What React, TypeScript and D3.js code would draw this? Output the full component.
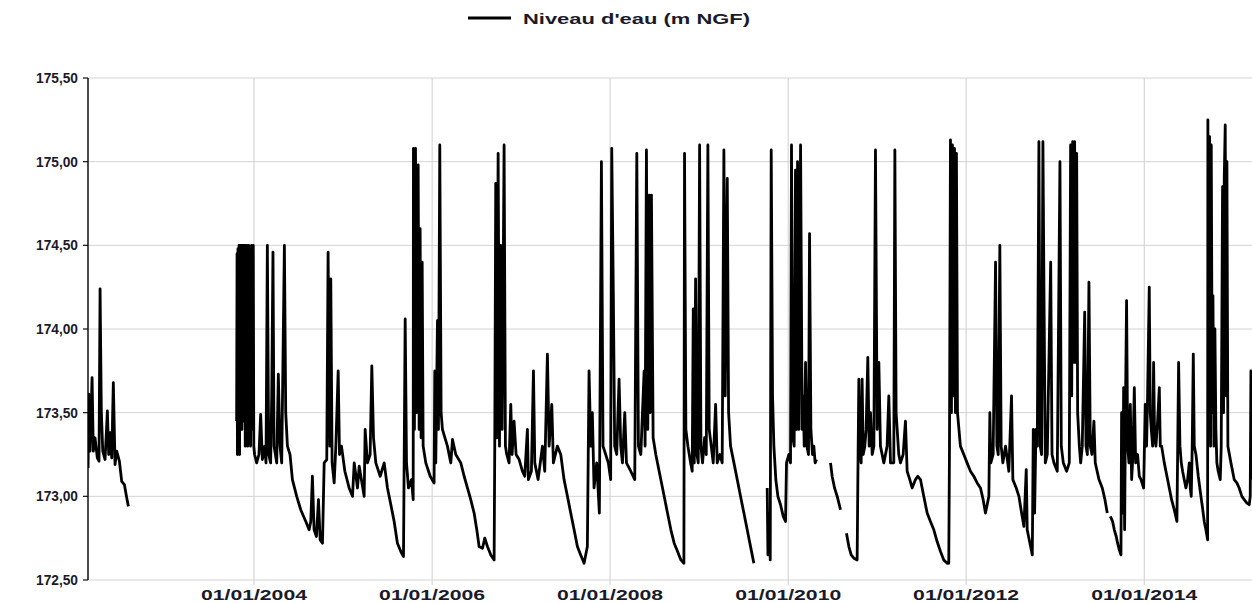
import React from "react";
import * as d3 from "d3";

// Water level series (decimal year, m NGF); separate recording periods
const seg2002: [number, number][] = [
  [2002.135, 173.17], [2002.143, 173.61], [2002.157, 173.27], [2002.18, 173.71], [2002.194, 173.27],
  [2002.213, 173.35], [2002.239, 173.23], [2002.258, 173.21], [2002.27, 174.24], [2002.284, 173.51],
  [2002.3, 173.27], [2002.326, 173.22], [2002.352, 173.51], [2002.367, 173.25], [2002.382, 173.38],
  [2002.401, 173.23], [2002.419, 173.68], [2002.438, 173.19], [2002.457, 173.27], [2002.487, 173.21],
  [2002.513, 173.09], [2002.543, 173.07], [2002.57, 172.99], [2002.588, 172.94],
];

const seg2003to2009: [number, number][] = [
  [2003.805, 173.45], [2003.81, 174.45], [2003.814, 173.25], [2003.82, 174.48], [2003.825, 173.3],
  [2003.832, 174.5], [2003.838, 173.25], [2003.845, 174.5], [2003.851, 173.5], [2003.858, 174.5],
  [2003.864, 173.4], [2003.87, 174.5], [2003.876, 173.5], [2003.883, 174.5], [2003.889, 173.45],
  [2003.896, 174.5], [2003.902, 173.3], [2003.91, 174.5], [2003.916, 173.5], [2003.924, 174.5],
  [2003.93, 173.3], [2003.94, 174.5], [2003.946, 173.35], [2003.955, 173.9], [2003.962, 173.3],
  [2003.972, 174.5], [2003.978, 173.4], [2003.992, 174.5], [2003.998, 173.3],
  [2004.007, 173.25], [2004.03, 173.2], [2004.056, 173.25], [2004.075, 173.49], [2004.094, 173.22],
  [2004.12, 173.3], [2004.135, 173.2], [2004.15, 174.5], [2004.165, 173.25], [2004.187, 173.2],
  [2004.199, 173.6], [2004.213, 174.46], [2004.225, 173.3], [2004.255, 173.2], [2004.273, 173.73],
  [2004.292, 173.3], [2004.311, 173.2], [2004.341, 174.5], [2004.356, 173.5], [2004.375, 173.3],
  [2004.404, 173.25], [2004.431, 173.1], [2004.479, 173.0], [2004.524, 172.92], [2004.581, 172.85],
  [2004.618, 172.8], [2004.637, 172.85], [2004.655, 173.12], [2004.674, 172.8], [2004.7, 172.76],
  [2004.723, 172.98], [2004.742, 172.74], [2004.768, 172.72], [2004.787, 173.2], [2004.816, 173.22],
  [2004.831, 174.46], [2004.85, 173.3], [2004.861, 174.3], [2004.876, 173.2], [2004.899, 173.08],
  [2004.918, 173.3], [2004.944, 173.75], [2004.959, 173.25], [2004.981, 173.3], [2005.019, 173.15],
  [2005.067, 173.05], [2005.105, 173.0], [2005.124, 173.2], [2005.161, 173.05], [2005.18, 173.18],
  [2005.236, 173.0], [2005.247, 173.4], [2005.273, 173.2], [2005.303, 173.25], [2005.322, 173.78],
  [2005.341, 173.35], [2005.367, 173.2], [2005.416, 173.12], [2005.461, 173.2], [2005.498, 173.05],
  [2005.536, 172.95], [2005.573, 172.85], [2005.61, 172.72], [2005.648, 172.67], [2005.678, 172.64],
  [2005.697, 174.06], [2005.712, 173.2], [2005.734, 173.05], [2005.768, 173.1], [2005.787, 172.98],
  [2005.79, 175.08], [2005.801, 173.4], [2005.813, 175.08], [2005.824, 173.5], [2005.843, 174.98],
  [2005.854, 173.4], [2005.865, 174.6], [2005.876, 173.35], [2005.888, 174.4], [2005.899, 173.3],
  [2005.929, 173.2], [2005.978, 173.12], [2006.022, 173.08], [2006.03, 173.75], [2006.041, 173.2],
  [2006.06, 174.05], [2006.071, 173.4], [2006.086, 175.1], [2006.101, 173.5], [2006.116, 173.4],
  [2006.172, 173.3], [2006.21, 173.2], [2006.229, 173.34], [2006.266, 173.25], [2006.322, 173.2],
  [2006.36, 173.12], [2006.397, 173.05], [2006.434, 172.98], [2006.472, 172.9], [2006.502, 172.8],
  [2006.528, 172.7], [2006.566, 172.69], [2006.592, 172.75], [2006.622, 172.7], [2006.66, 172.65],
  [2006.697, 172.62], [2006.704, 173.3], [2006.715, 174.87], [2006.727, 173.35], [2006.742, 175.05],
  [2006.757, 173.3], [2006.772, 174.5], [2006.787, 173.4], [2006.809, 175.1], [2006.824, 173.3],
  [2006.839, 173.25], [2006.865, 173.2], [2006.884, 173.55], [2006.899, 173.25], [2006.921, 173.45],
  [2006.944, 173.25], [2006.978, 173.22], [2007.015, 173.15], [2007.041, 173.12], [2007.071, 173.4],
  [2007.082, 173.1], [2007.116, 173.15], [2007.139, 173.75], [2007.154, 173.2], [2007.191, 173.1],
  [2007.24, 173.3], [2007.266, 173.15], [2007.296, 173.85], [2007.315, 173.3], [2007.345, 173.55],
  [2007.363, 173.2], [2007.408, 173.3], [2007.446, 173.25], [2007.483, 173.1], [2007.521, 173.0],
  [2007.558, 172.9], [2007.596, 172.8], [2007.633, 172.7], [2007.67, 172.65], [2007.708, 172.6],
  [2007.745, 172.7], [2007.764, 173.75], [2007.783, 173.3], [2007.801, 173.5], [2007.82, 173.05],
  [2007.85, 173.2], [2007.88, 172.9], [2007.903, 175.0], [2007.921, 173.3], [2007.951, 173.25],
  [2007.981, 173.2], [2008.007, 173.1], [2008.019, 175.08], [2008.037, 174.2], [2008.052, 173.3],
  [2008.075, 173.25], [2008.101, 173.7], [2008.12, 173.3], [2008.139, 173.2], [2008.165, 173.5],
  [2008.184, 173.2], [2008.232, 173.15], [2008.277, 173.1], [2008.3, 175.05], [2008.318, 173.3],
  [2008.345, 173.25], [2008.382, 173.75], [2008.393, 173.3], [2008.408, 175.07], [2008.423, 173.4],
  [2008.438, 174.8], [2008.449, 173.5], [2008.464, 174.8], [2008.483, 173.35], [2008.513, 173.25],
  [2008.569, 173.1], [2008.607, 173.0], [2008.644, 172.9], [2008.682, 172.8], [2008.719, 172.72],
  [2008.757, 172.67], [2008.794, 172.62], [2008.828, 172.6], [2008.835, 175.05], [2008.85, 173.4],
  [2008.873, 173.3], [2008.903, 173.2], [2008.921, 173.15], [2008.933, 174.12], [2008.944, 173.2],
  [2008.959, 174.3], [2008.974, 173.25], [2008.989, 173.2], [2009.004, 175.1], [2009.019, 173.3],
  [2009.037, 173.2], [2009.06, 173.35], [2009.079, 173.25], [2009.097, 175.1], [2009.112, 173.4],
  [2009.135, 173.3], [2009.157, 173.2], [2009.184, 173.55], [2009.202, 173.2], [2009.232, 173.25],
  [2009.258, 173.2], [2009.277, 175.07], [2009.292, 173.6], [2009.315, 174.9], [2009.33, 173.5],
  [2009.352, 173.3], [2009.39, 173.2], [2009.427, 173.1], [2009.464, 173.0], [2009.502, 172.9],
  [2009.532, 172.82], [2009.558, 172.75], [2009.584, 172.68], [2009.614, 172.6],
];

const seg2009to2010: [number, number][] = [
  [2009.764, 173.05], [2009.772, 172.65], [2009.787, 172.9], [2009.798, 172.62], [2009.809, 175.07],
  [2009.824, 173.6], [2009.839, 173.3], [2009.861, 173.1], [2009.884, 173.0], [2009.914, 172.95],
  [2009.944, 172.88], [2009.97, 172.85], [2009.981, 173.2], [2010.007, 173.25], [2010.026, 173.2],
  [2010.037, 175.1], [2010.052, 173.35], [2010.067, 173.3], [2010.082, 174.95], [2010.094, 173.4],
  [2010.105, 175.0], [2010.12, 173.4], [2010.139, 175.1], [2010.157, 173.4], [2010.169, 173.6],
  [2010.18, 173.3], [2010.195, 173.8], [2010.21, 173.3], [2010.228, 173.25], [2010.24, 174.57],
  [2010.255, 173.4], [2010.273, 173.25], [2010.288, 173.3], [2010.303, 173.2], [2010.318, 173.22],
];

const seg2010mid: [number, number][] = [
  [2010.476, 173.2], [2010.494, 173.12], [2010.521, 173.05], [2010.551, 173.0], [2010.588, 172.92],
];

const seg2010to2013: [number, number][] = [
  [2010.655, 172.78], [2010.682, 172.7], [2010.708, 172.65], [2010.738, 172.63], [2010.775, 172.62],
  [2010.783, 173.1], [2010.794, 173.7], [2010.805, 173.3], [2010.82, 173.2], [2010.831, 173.7],
  [2010.843, 173.25], [2010.861, 173.3], [2010.876, 173.4], [2010.895, 173.83], [2010.91, 173.3],
  [2010.925, 173.5], [2010.944, 173.25], [2010.963, 173.3], [2010.981, 175.07], [2011.0, 173.4],
  [2011.019, 173.8], [2011.037, 173.3], [2011.075, 173.2], [2011.112, 173.3], [2011.131, 173.6],
  [2011.15, 173.2], [2011.187, 173.2], [2011.199, 175.07], [2011.213, 173.5], [2011.225, 173.4],
  [2011.243, 173.25], [2011.262, 173.2], [2011.292, 173.25], [2011.318, 173.45], [2011.337, 173.15],
  [2011.367, 173.1], [2011.393, 173.05], [2011.431, 173.1], [2011.457, 173.12], [2011.487, 173.1],
  [2011.524, 173.0], [2011.562, 172.9], [2011.599, 172.85], [2011.637, 172.8], [2011.674, 172.73],
  [2011.712, 172.67], [2011.749, 172.62], [2011.787, 172.6], [2011.805, 172.6], [2011.813, 173.3],
  [2011.824, 175.13], [2011.835, 173.5], [2011.846, 175.1], [2011.858, 173.6], [2011.869, 175.08],
  [2011.88, 173.5], [2011.891, 175.05], [2011.903, 173.5], [2011.936, 173.3], [2011.974, 173.25],
  [2012.011, 173.2], [2012.049, 173.15], [2012.086, 173.12], [2012.124, 173.08], [2012.161, 173.05],
  [2012.191, 172.98], [2012.217, 172.9], [2012.236, 172.95], [2012.255, 173.0], [2012.266, 173.5],
  [2012.277, 173.2], [2012.303, 173.25], [2012.33, 174.4], [2012.345, 173.3], [2012.36, 173.25],
  [2012.378, 174.5], [2012.393, 173.3], [2012.412, 173.2], [2012.442, 173.3], [2012.479, 173.15],
  [2012.509, 173.6], [2012.524, 173.1], [2012.562, 173.05], [2012.592, 173.0], [2012.622, 172.9],
  [2012.648, 172.82], [2012.674, 173.16], [2012.685, 172.8], [2012.704, 172.75], [2012.723, 172.7],
  [2012.742, 172.65], [2012.753, 173.4], [2012.768, 172.9], [2012.783, 173.4], [2012.798, 173.3],
  [2012.816, 175.12], [2012.831, 173.3], [2012.846, 173.25], [2012.861, 175.12], [2012.873, 174.2],
  [2012.888, 173.2], [2012.91, 173.25], [2012.948, 174.4], [2012.963, 173.25], [2012.985, 173.2],
  [2013.022, 173.15], [2013.052, 175.0], [2013.067, 173.3], [2013.09, 173.2], [2013.127, 173.15],
  [2013.157, 173.2], [2013.172, 175.1], [2013.184, 173.6], [2013.195, 175.12], [2013.206, 173.8],
  [2013.217, 175.12], [2013.228, 173.8], [2013.24, 175.05], [2013.251, 173.5], [2013.27, 173.3],
  [2013.285, 173.2], [2013.303, 173.3], [2013.33, 174.1], [2013.345, 173.3], [2013.36, 173.25],
  [2013.378, 174.28], [2013.393, 173.3], [2013.412, 173.25], [2013.434, 173.45], [2013.449, 173.2],
  [2013.491, 173.1], [2013.528, 173.05], [2013.558, 172.98], [2013.584, 172.9],
];

const seg2013to2015: [number, number][] = [
  [2013.618, 172.88], [2013.644, 172.85], [2013.663, 172.8], [2013.685, 172.76], [2013.7, 172.72],
  [2013.719, 172.68], [2013.738, 172.65], [2013.745, 173.5], [2013.757, 172.9], [2013.768, 173.65],
  [2013.779, 172.8], [2013.79, 173.6], [2013.801, 174.17], [2013.813, 173.3], [2013.828, 173.2],
  [2013.843, 173.55], [2013.858, 173.1], [2013.873, 173.25], [2013.888, 173.65], [2013.903, 173.2],
  [2013.925, 173.25], [2013.944, 173.12], [2013.963, 173.1], [2013.993, 173.05], [2014.011, 173.55],
  [2014.026, 173.3], [2014.037, 173.6], [2014.056, 174.25], [2014.067, 173.5], [2014.079, 173.4],
  [2014.094, 173.3], [2014.105, 173.8], [2014.116, 173.35], [2014.131, 173.3], [2014.15, 173.45],
  [2014.169, 173.65], [2014.18, 173.3], [2014.195, 173.3], [2014.225, 173.2], [2014.255, 173.12],
  [2014.281, 173.05], [2014.307, 172.98], [2014.337, 172.92], [2014.367, 172.85], [2014.386, 173.8],
  [2014.401, 173.3], [2014.416, 173.2], [2014.431, 173.15], [2014.449, 173.1], [2014.468, 173.05],
  [2014.487, 173.1], [2014.506, 173.2], [2014.517, 173.05], [2014.528, 173.0], [2014.539, 173.3],
  [2014.551, 173.85], [2014.562, 173.3], [2014.581, 173.25], [2014.607, 173.12], [2014.637, 173.0],
  [2014.655, 172.93], [2014.674, 172.85], [2014.693, 172.8], [2014.712, 172.74], [2014.715, 175.25],
  [2014.727, 173.4], [2014.734, 175.15], [2014.745, 173.3], [2014.753, 175.1], [2014.764, 173.5],
  [2014.772, 174.2], [2014.783, 173.3], [2014.794, 174.0], [2014.805, 173.4], [2014.816, 173.2],
  [2014.831, 173.15], [2014.854, 173.1], [2014.865, 173.3], [2014.88, 174.85], [2014.891, 173.5],
  [2014.899, 174.9], [2014.91, 175.22], [2014.921, 173.6], [2014.929, 175.0], [2014.94, 173.3],
  [2014.974, 173.2], [2015.011, 173.1], [2015.041, 173.08], [2015.067, 173.05], [2015.097, 173.0],
  [2015.124, 172.98], [2015.154, 172.96], [2015.18, 172.95], [2015.191, 173.0], [2015.199, 173.75],
  [2015.21, 173.1],
];

const segments = [seg2002, seg2003to2009, seg2009to2010, seg2010mid, seg2010to2013, seg2013to2015];

const yTicks = [172.5, 173.0, 173.5, 174.0, 174.5, 175.0, 175.5];
const xTickYears = [2004, 2006, 2008, 2010, 2012, 2014];
const seriesName = "Niveau d'eau (m NGF)";

function toDate(t: number): Date {
  const y = Math.floor(t);
  const s = Date.UTC(y, 0, 1);
  const e = Date.UTC(y + 1, 0, 1);
  return new Date(s + (t - y) * (e - s));
}

const W = 1252;
const H = 603;
const left = 88;
const right = 1252;
const top = 78;
const bottom = 580;

const frLocale = d3.formatLocale({ decimal: ",", thousands: " ", grouping: [3], currency: ["", " €"] });
const yFmt = frLocale.format(".2f");
const xFmt = d3.utcFormat("%d/%m/%Y");

export default function App() {
  const x = d3
    .scaleUtc()
    .domain([new Date(Date.UTC(2002, 1, 19)), new Date(Date.UTC(2015, 2, 19))])
    .range([left, right]);
  const y = d3.scaleLinear().domain([172.5, 175.5]).range([bottom, top]);

  const data: [number, number | null][] = [];
  segments.forEach((seg, i) => {
    if (i > 0) data.push([seg[0][0] - 0.001, null]);
    seg.forEach((p) => data.push(p));
  });

  const line = d3
    .line<[number, number | null]>()
    .defined((d) => d[1] !== null)
    .x((d) => x(toDate(d[0])))
    .y((d) => y(d[1] as number));

  const font = "'Liberation Sans', Arial, sans-serif";

  return (
    <svg
      width={W}
      height={H}
      style={{ position: "absolute", left: 0, top: 0, background: "#fff" }}
    >
      <defs>
        <clipPath id="plotclip">
          <rect x={left} y={top - 5} width={right - left} height={bottom - top + 5} />
        </clipPath>
      </defs>
      <rect x={0} y={0} width={W} height={H} fill="#fff" />
      {/* horizontal grid */}
      {yTicks.map((t) => (
        <g key={"y" + t}>
          <line x1={left} x2={right} y1={y(t)} y2={y(t)} stroke="#d4d4d4" strokeWidth={1} />
          <line x1={left - 5} x2={left} y1={y(t)} y2={y(t)} stroke="#111" strokeWidth={1.2} />
          <text
            x={78}
            y={y(t)}
            dy="0.35em"
            textAnchor="end"
            fontFamily={font}
            fontWeight="bold"
            fontSize={14}
            fill="#1a1a2a"
            textLength={42}
            lengthAdjust="spacingAndGlyphs"
          >
            {yFmt(t)}
          </text>
        </g>
      ))}
      {/* vertical grid */}
      {xTickYears.map((yr) => {
        const d = new Date(Date.UTC(yr, 0, 1));
        const px = x(d);
        return (
          <g key={"x" + yr}>
            <line x1={px} x2={px} y1={top} y2={bottom + 5} stroke="#cfcfcf" strokeWidth={1} />
            <text
              x={px}
              y={600}
              textAnchor="middle"
              fontFamily={font}
              fontWeight="bold"
              fontSize={14}
              fill="#1a1a2a"
              textLength={106}
              lengthAdjust="spacingAndGlyphs"
            >
              {xFmt(d)}
            </text>
          </g>
        );
      })}
      {/* left axis */}
      <line x1={left} x2={left} y1={top} y2={bottom} stroke="#111" strokeWidth={1.5} />
      <path
        d={line(data) || ""}
        fill="none"
        stroke="#000"
        strokeWidth={2.8}
        strokeLinejoin="round"
        clipPath="url(#plotclip)"
      />
      {/* legend */}
      <line x1={468} x2={511} y1={18} y2={18} stroke="#000" strokeWidth={3} />
      <text
        x={523}
        y={24}
        fontFamily={font}
        fontWeight="bold"
        fontSize={14}
        fill="#1a1a2a"
        textLength={227}
        lengthAdjust="spacingAndGlyphs"
      >
        {seriesName}
      </text>
    </svg>
  );
}
